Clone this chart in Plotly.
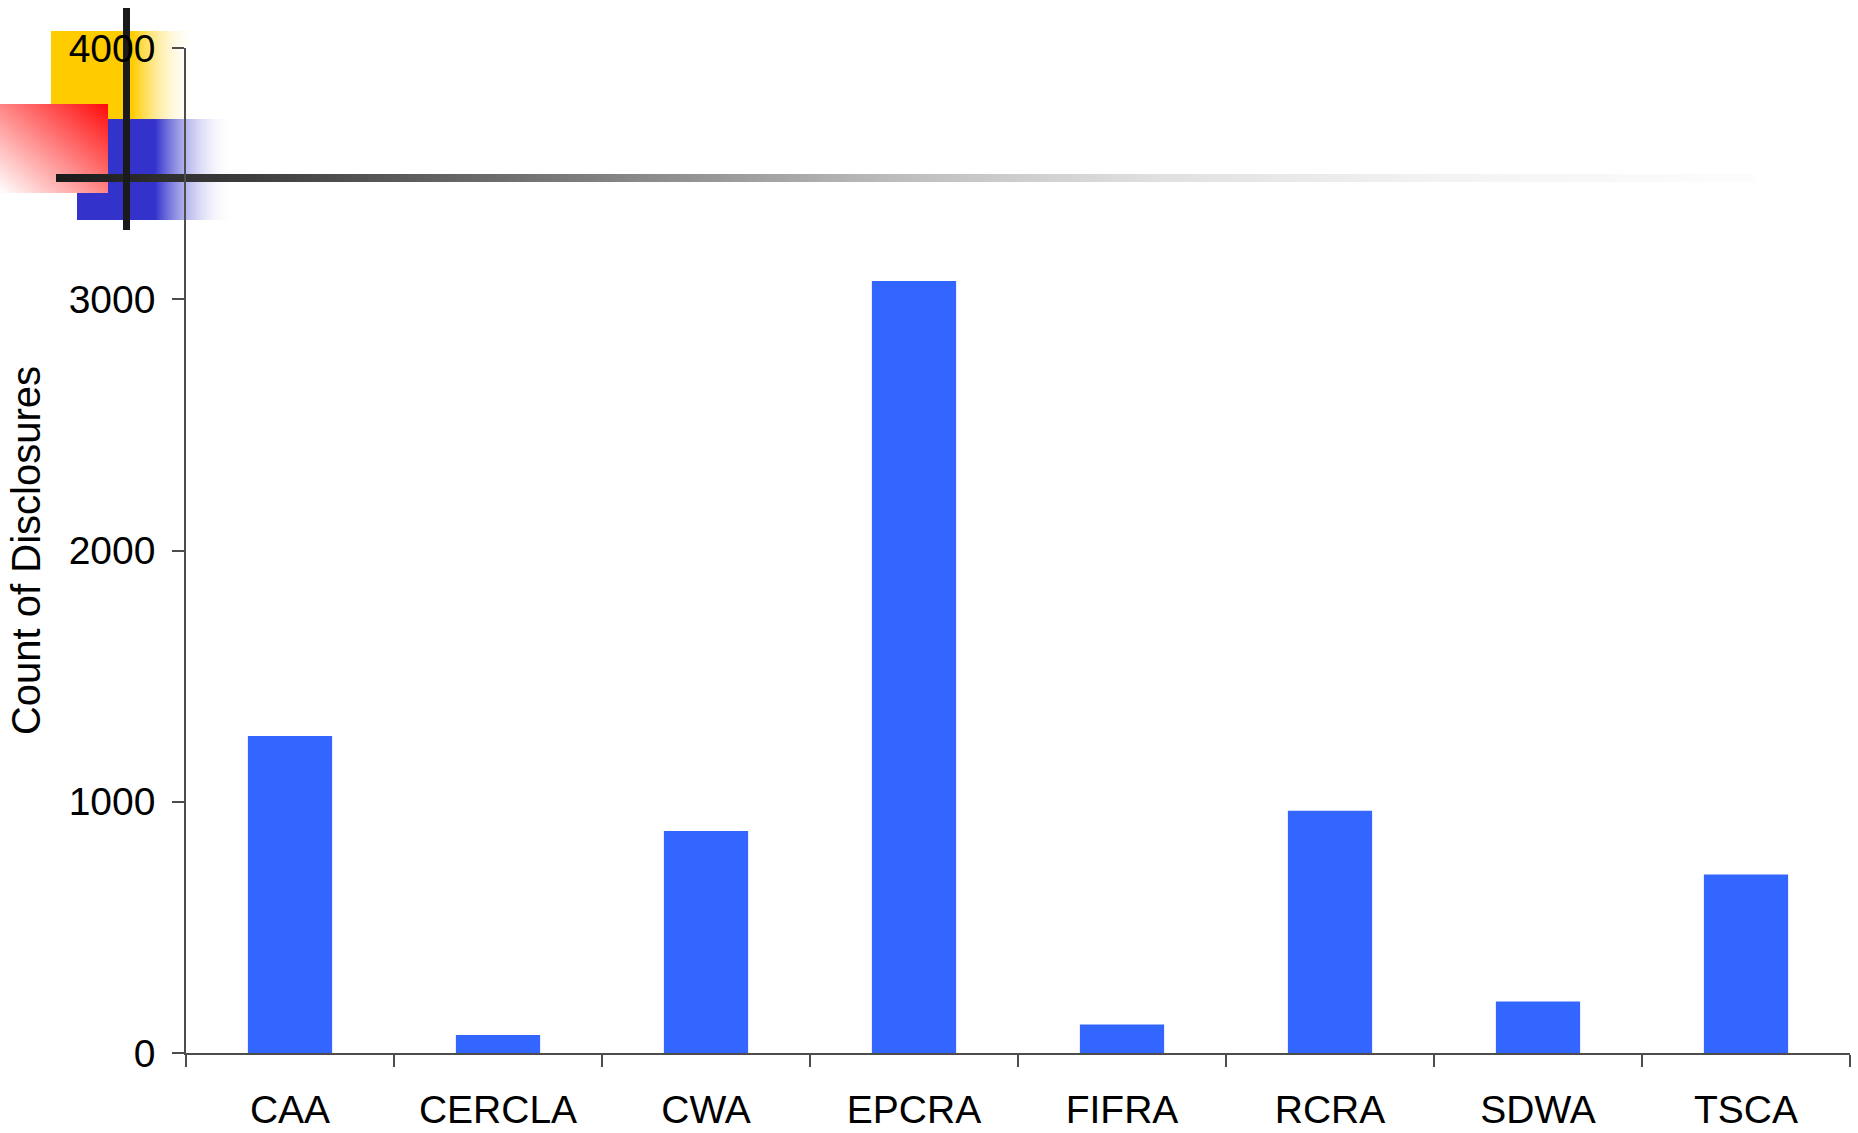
import base64
import plotly.graph_objects as go

categories = ["CAA", "CERCLA", "CWA", "EPCRA", "FIFRA", "RCRA", "SDWA", "TSCA"]
counts = [1262, 72, 884, 3073, 113, 964, 205, 710]
y_ticks = [0, 1000, 2000, 3000, 4000]
y_title = "Count of Disclosures"

W, H = 1858, 1133
L, R, T, B = 186, 8, 48, 80
PW, PH = W - L - R, H - T - B

svg = f'''<svg xmlns="http://www.w3.org/2000/svg" width="{W}" height="{H}" viewBox="0 0 {W} {H}" preserveAspectRatio="none">
<defs>
<linearGradient id="gy" x1="0" y1="0" x2="1" y2="0">
<stop offset="0" stop-color="#FFCC00"/><stop offset="0.56" stop-color="#FFCC00"/><stop offset="1" stop-color="#FFFFFF" stop-opacity="0"/>
</linearGradient>
<linearGradient id="gb" x1="0" y1="0" x2="1" y2="0">
<stop offset="0" stop-color="#3333CC"/><stop offset="0.5" stop-color="#3333CC"/><stop offset="1" stop-color="#FFFFFF" stop-opacity="0"/>
</linearGradient>
<linearGradient id="gr" x1="1" y1="0" x2="0" y2="1">
<stop offset="0" stop-color="#FF0A0A"/><stop offset="1" stop-color="#FFFFFF"/>
</linearGradient>
<linearGradient id="gl" x1="0" y1="0" x2="1" y2="0">
<stop offset="0" stop-color="#1A1A1A"/>
<stop offset="0.143" stop-color="#474747"/>
<stop offset="0.318" stop-color="#808080"/>
<stop offset="0.494" stop-color="#BDBDBD"/>
<stop offset="0.647" stop-color="#E0E0E0"/>
<stop offset="0.816" stop-color="#F3F3F3"/>
<stop offset="1" stop-color="#FDFDFD"/>
</linearGradient>
</defs>
<rect x="51" y="31" width="146" height="90" fill="url(#gy)"/>
<rect x="77" y="119" width="156" height="101" fill="url(#gb)"/>
<rect x="0" y="104" width="108" height="89" fill="url(#gr)"/>
<rect x="56" y="174" width="1700" height="8" fill="url(#gl)"/>
<rect x="123" y="8" width="7" height="222" fill="#1A1A1A"/>
</svg>'''
src = "data:image/svg+xml;base64," + base64.b64encode(svg.encode()).decode()

fig = go.Figure(go.Bar(x=categories, y=counts, marker=dict(color="#3366FF", line=dict(width=0))))

fig.update_layout(
    width=W, height=H, autosize=False,
    margin=dict(l=L, r=R, t=T, b=B, pad=0),
    paper_bgcolor="white", plot_bgcolor="rgba(0,0,0,0)",
    bargap=0.595, showlegend=False,
    font=dict(family="Liberation Sans, Arial, sans-serif", size=39, color="black"),
    images=[dict(source=src, xref="paper", yref="paper",
                 x=-L / PW, y=(PH + T) / PH, sizex=W / PW, sizey=H / PH,
                 xanchor="left", yanchor="top", sizing="stretch", layer="below")],
)
fig.update_xaxes(showline=True, linecolor="#4D4D4D", linewidth=1.5, automargin=False,
                 ticks="outside", tickson="boundaries", ticklen=12, tickcolor="#4D4D4D", tickwidth=1.5,
                 showgrid=False, tickfont=dict(size=39), ticklabelstandoff=21)
fig.update_yaxes(range=[0, 4000], tickvals=y_ticks, showline=True, linecolor="#4D4D4D", linewidth=1.5,
                 automargin=False,
                 ticks="outside", ticklen=12, tickcolor="#4D4D4D", tickwidth=1.5,
                 showgrid=False, zeroline=False, tickfont=dict(size=39), ticklabelstandoff=9,
                 title=dict(text=y_title, font=dict(size=40), standoff=16))

fig.write_html("out.html", config={"displayModeBar": False},
               post_script="document.body.style.margin='0';document.body.style.overflow='hidden';")
